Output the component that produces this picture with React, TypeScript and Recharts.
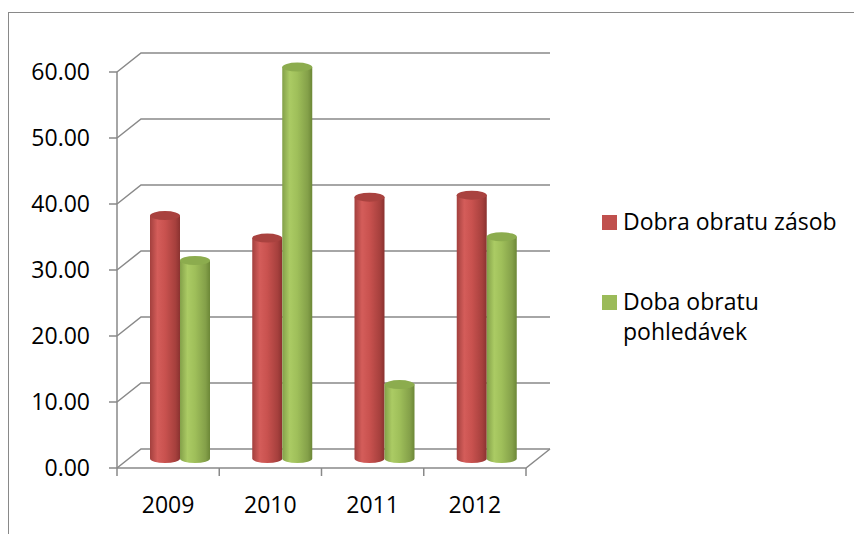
import React from 'react';
import { BarChart, Bar, XAxis, YAxis, CartesianGrid, ReferenceLine } from 'recharts';

const years = ['2009', '2010', '2011', '2012'];
const obratZasob = [36.8, 33.4, 39.6, 39.9];
const obratPohledavek = [30.0, 59.3, 11.2, 33.6];
const yTicks = [0, 10, 20, 30, 40, 50, 60];

const seriesNames = ['Dobra obratu zásob', 'Doba obratu pohledávek'];

const data = years.map((year, i) => ({
  year,
  zasob: obratZasob[i],
  pohledavek: obratPohledavek[i],
}));

// depth of the 3D box (back wall is shifted right/up by this much)
const DEPTH_X = 24;
const DEPTH_Y = 19;
const LINE = '#898989';
const FONT = '"Open Sans", sans-serif';
const FONT_SIZE = 23;

const palette = [
  { id: 'cylRed', stops: ['#a3403e', '#d45d5a', '#c9524f', '#a6403d', '#8a3230'], top: '#a9423f', swatch: '#c0504d' },
  { id: 'cylGreen', stops: ['#83a049', '#abcb64', '#9fbf5a', '#84a049', '#6c8737'], top: '#8cac4e', swatch: '#9bbb59' },
];

const makeCylinder = (gradId: string, topColor: string) => (props: any) => {
  const { x, y, width, height } = props;
  if (height == null || width == null) return <g />;
  const cx = x + width / 2 + DEPTH_X / 2;
  const top = y - DEPTH_Y / 2;
  const bottom = y + height - DEPTH_Y / 2;
  const rx = width / 2;
  const ry = 4.5;
  return (
    <g>
      <path
        d={`M${cx - rx},${top} L${cx - rx},${bottom} A${rx},${ry} 0 0 0 ${cx + rx},${bottom} L${cx + rx},${top} Z`}
        fill={`url(#${gradId})`}
      />
      <ellipse cx={cx} cy={top} rx={rx} ry={ry} fill={topColor} />
    </g>
  );
};

// back wall gridline with its diagonal on the side wall
const renderGridLine = (p: any) => (
  <polyline
    key={p.key}
    points={`${p.x1},${p.y1} ${p.x1 + DEPTH_X},${p.y1 - DEPTH_Y} ${p.x2 + DEPTH_X},${p.y2 - DEPTH_Y}`}
    fill="none"
    stroke={LINE}
    strokeWidth={1.5}
  />
);

// floor: front edge, right diagonal and category separators
const renderFloor = (p: any) => {
  const step = (p.x2 - p.x1) / years.length;
  const marks = years.map((_, i) => p.x1 + step * i).concat([p.x2]);
  return (
    <g>
      <polyline
        points={`${p.x1},${p.y1} ${p.x2},${p.y2} ${p.x2 + DEPTH_X},${p.y2 - DEPTH_Y}`}
        fill="none"
        stroke={LINE}
        strokeWidth={1.5}
      />
      {marks.map((mx, i) => (
        <line key={i} x1={mx} y1={p.y1} x2={mx} y2={p.y1 + 8} stroke={LINE} strokeWidth={1.5} />
      ))}
    </g>
  );
};

const YearTick = (props: any) => {
  const { x, y, payload } = props;
  return (
    <text x={x} y={y + 37} textAnchor="middle" fontFamily={FONT} fontSize={FONT_SIZE} fill="#000">
      {payload.value}
    </text>
  );
};

export default function App() {
  return (
    <div
      style={{
        position: 'fixed',
        left: 0,
        top: 0,
        width: 854,
        height: 534,
        overflow: 'hidden',
        background: '#fff',
      }}
    >
      <div
        style={{
          position: 'absolute',
          left: 8,
          top: 12,
          width: 900,
          height: 600,
          borderTop: `1.5px solid ${LINE}`,
          borderLeft: `1.5px solid ${LINE}`,
        }}
      />
      <div style={{ position: 'absolute', left: 0, top: 0 }}>
        <BarChart
          width={854}
          height={534}
          data={data}
          margin={{ top: 72, right: 328, bottom: 36, left: 57 }}
          barSize={30}
          barGap={0}
        >
          <defs>
            {palette.map((c) => (
              <linearGradient key={c.id} id={c.id} x1="0" y1="0" x2="1" y2="0">
                <stop offset="0%" stopColor={c.stops[0]} />
                <stop offset="25%" stopColor={c.stops[1]} />
                <stop offset="50%" stopColor={c.stops[2]} />
                <stop offset="85%" stopColor={c.stops[3]} />
                <stop offset="100%" stopColor={c.stops[4]} />
              </linearGradient>
            ))}
          </defs>
          <CartesianGrid vertical={false} horizontal={renderGridLine} />
          <XAxis
            dataKey="year"
            height={30}
            axisLine={false}
            tickLine={false}
            tick={<YearTick />}
            interval={0}
          />
          <YAxis
            width={60}
            domain={[0, 60]}
            ticks={yTicks}
            interval={0}
            tickSize={8}
            tickMargin={19}
            tickFormatter={(v: number) => v.toFixed(2)}
            axisLine={{ stroke: LINE, strokeWidth: 1.5 }}
            tickLine={{ stroke: LINE, strokeWidth: 1.5 }}
            tick={{ fill: '#000', fontSize: FONT_SIZE, fontFamily: FONT }}
          />
          <ReferenceLine y={0} shape={renderFloor} />
          <Bar
            dataKey="zasob"
            name={seriesNames[0]}
            fill={palette[0].swatch}
            shape={makeCylinder(palette[0].id, palette[0].top)}
            isAnimationActive={false}
          />
          <Bar
            dataKey="pohledavek"
            name={seriesNames[1]}
            fill={palette[1].swatch}
            shape={makeCylinder(palette[1].id, palette[1].top)}
            isAnimationActive={false}
          />
        </BarChart>
      </div>
      <div
        style={{
          position: 'absolute',
          left: 602,
          top: 206,
          width: 240,
          fontFamily: FONT,
          fontSize: FONT_SIZE,
          lineHeight: '30px',
          color: '#000',
        }}
      >
        {seriesNames.map((name, i) => (
          <div key={name} style={{ display: 'flex', alignItems: 'flex-start', marginBottom: 50 }}>
            <span
              style={{
                display: 'inline-block',
                width: 15,
                height: 15,
                marginTop: 9,
                marginRight: 6,
                flex: 'none',
                background: palette[i].swatch,
              }}
            />
            <span style={{ width: 218 }}>{name}</span>
          </div>
        ))}
      </div>
    </div>
  );
}
